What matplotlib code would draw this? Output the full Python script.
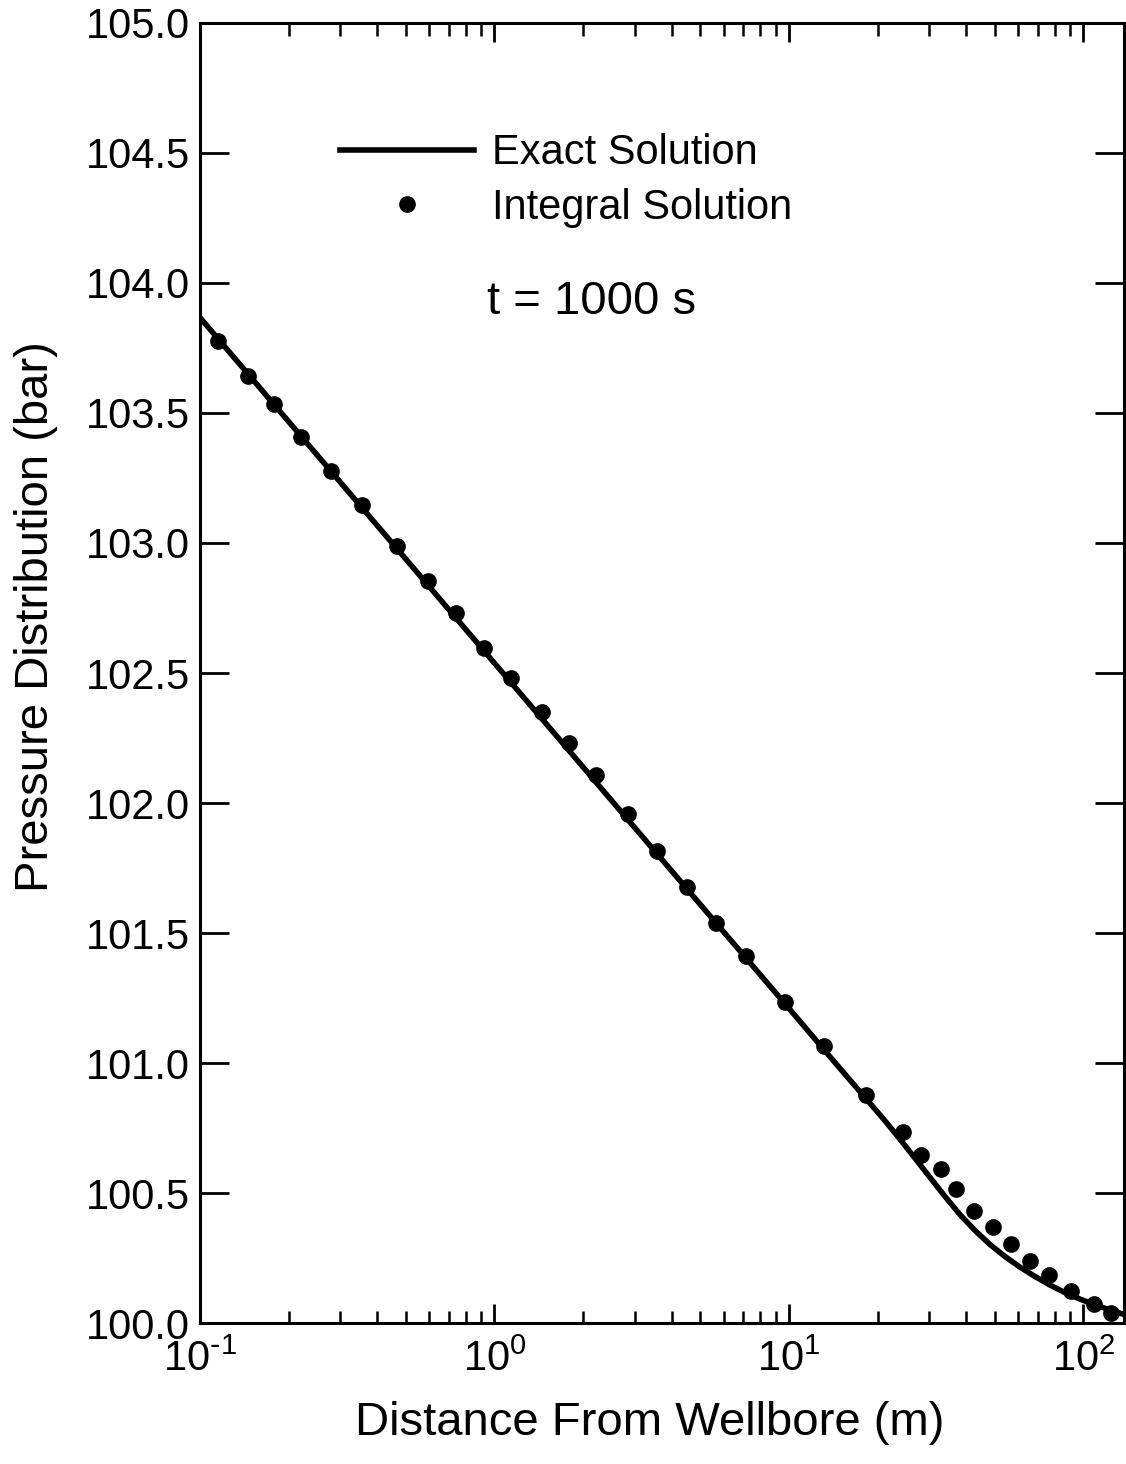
import numpy as np
import matplotlib
matplotlib.use("Agg")
import matplotlib.pyplot as plt
from matplotlib.ticker import LogLocator, FormatStrFormatter, NullFormatter, FuncFormatter

# exact solution curve
exact_x = [0.1, 0.3, 1.0, 3.0, 10.0, 14.0, 18.84, 21.18, 23.82, 26.78, 30.12,
           33.86, 38.07, 42.81, 48.14, 54.12, 60.86, 68.43, 76.93, 86.53, 97.30,
           109.4, 123.0, 137.3]
exact_p = [103.867, 103.233, 102.538, 101.904, 101.21, 101.015, 100.845, 100.778,
           100.707, 100.634, 100.560, 100.487, 100.417, 100.356, 100.302, 100.256,
           100.215, 100.179, 100.146, 100.117, 100.092, 100.070, 100.050, 100.033]

# integral solution points
integ_x = [0.1148, 0.145, 0.178, 0.221, 0.278, 0.356, 0.468, 0.596, 0.738, 0.923,
           1.134, 1.453, 1.794, 2.21, 2.83, 3.56, 4.50, 5.67, 7.13, 9.67, 13.1,
           18.2, 24.3, 28.1, 32.7, 36.9, 42.6, 49.4, 56.8, 65.8, 76.5, 90.5,
           108.9, 124.0]
integ_p = [103.777, 103.643, 103.536, 103.409, 103.276, 103.145, 102.988, 102.854,
           102.730, 102.597, 102.482, 102.351, 102.230, 102.107, 101.959, 101.815,
           101.676, 101.540, 101.412, 101.235, 101.067, 100.877, 100.733, 100.645,
           100.591, 100.514, 100.432, 100.370, 100.304, 100.238, 100.185, 100.124,
           100.072, 100.037]

yticks = [100.0, 100.5, 101.0, 101.5, 102.0, 102.5, 103.0, 103.5, 104.0, 104.5, 105.0]

plt.rcParams['font.family'] = ['Liberation Sans', 'DejaVu Sans']
plt.rcParams['axes.unicode_minus'] = False


def decade_label(v, pos):
    e = int(round(np.log10(v)))
    if e < 0:
        return r'$\mathdefault{10^{\text{-}%d}}$' % (-e)
    return r'$\mathdefault{10^{%d}}$' % e


fig = plt.figure(figsize=(11.26, 14.64), dpi=100)
ax = fig.add_axes([0.1776, 0.0963, 0.8204, 0.888])

ax.plot(exact_x, exact_p, color='black', lw=4, label='Exact Solution', zorder=2)
ax.plot(integ_x, integ_p, 'o', color='black', ms=11, label='Integral Solution', zorder=3)

ax.set_xscale('log')
ax.set_xlim(0.1, 137)
ax.set_ylim(100.0, 105.0)
ax.set_yticks(yticks)
ax.yaxis.set_major_formatter(FormatStrFormatter('%.1f'))
ax.xaxis.set_major_locator(LogLocator(base=10, numticks=10))
ax.xaxis.set_major_formatter(FuncFormatter(decade_label))
ax.xaxis.set_minor_locator(LogLocator(base=10, subs=np.arange(2, 10), numticks=20))
ax.xaxis.set_minor_formatter(NullFormatter())

ax.tick_params(which='both', direction='in', top=True, right=True, labelsize=30,
               color='black')
ax.tick_params(axis='y', which='major', length=21, width=2, pad=7)
ax.tick_params(axis='x', which='major', length=14, width=2, pad=12)
ax.tick_params(axis='x', which='minor', length=9, width=1.8)
for s in ax.spines.values():
    s.set_linewidth(2.2)

ax.set_xlabel('Distance From Wellbore (m)', fontsize=34)
ax.set_ylabel('Pressure Distribution (bar)', fontsize=34)
ax.yaxis.set_label_coords(-0.154, 0.543)
ax.xaxis.set_label_coords(0.487, -0.06)

ax.legend(loc='upper left', bbox_to_anchor=(0.152, 0.915), frameon=False,
          fontsize=30, handlelength=3.2, handletextpad=0.45, labelspacing=0.35,
          borderpad=0, borderaxespad=0, markerscale=1.0)
ax.text(0.311, 0.785, 't = 1000 s', transform=ax.transAxes, fontsize=34,
        va='center', ha='left')

fig.savefig('out.png', dpi=100)
